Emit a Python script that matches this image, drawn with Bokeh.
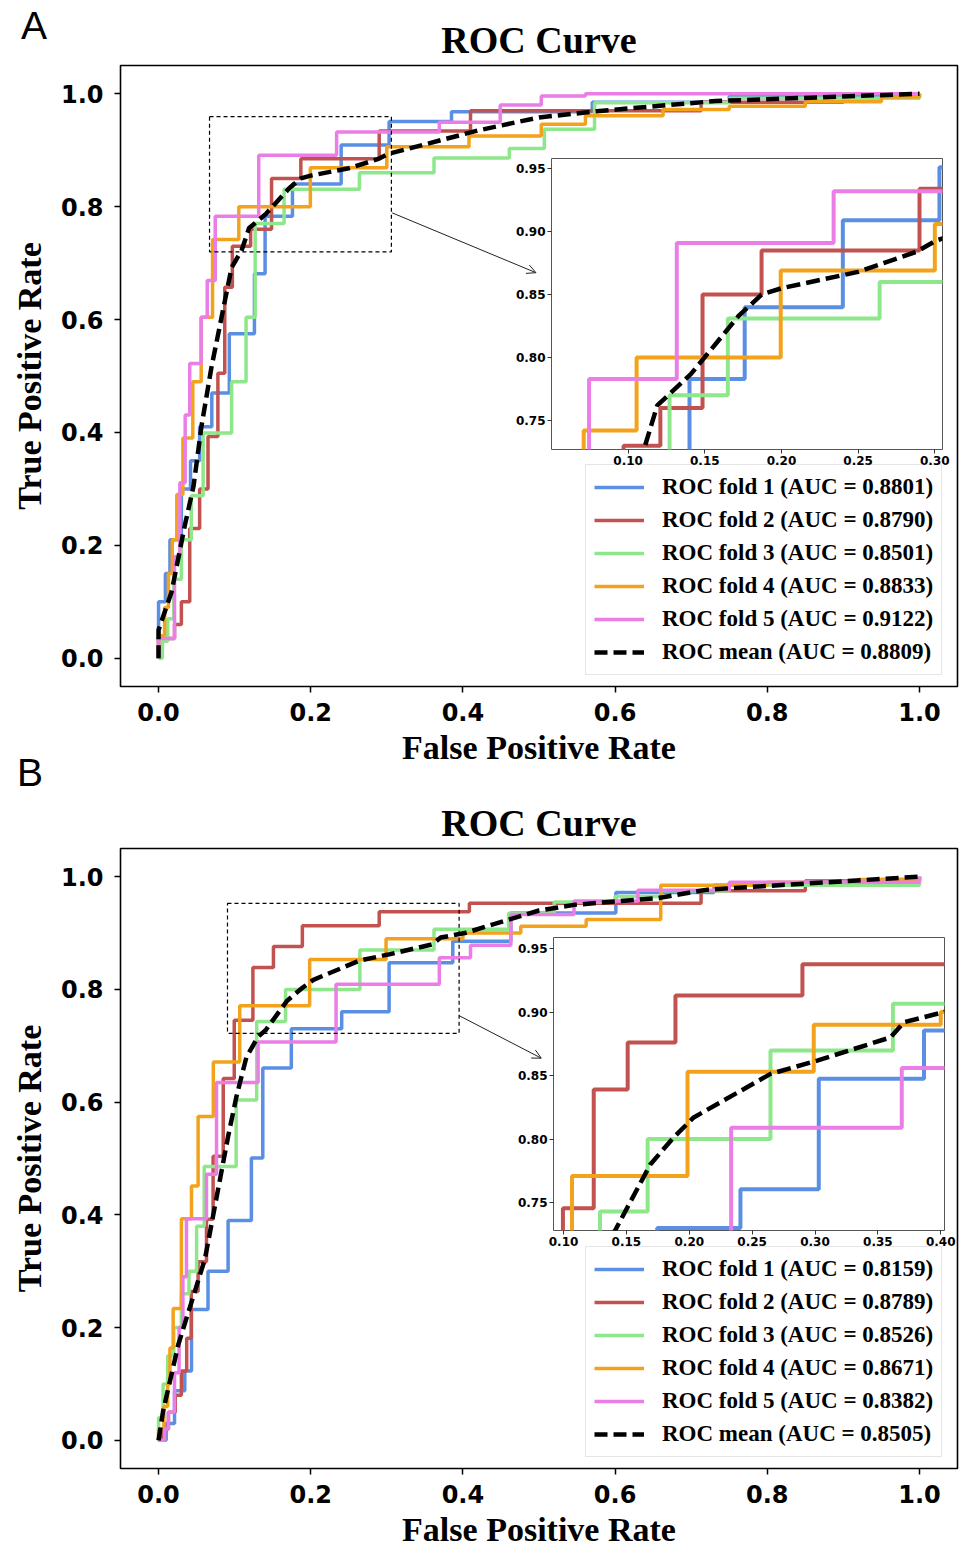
from bokeh.plotting import figure
from bokeh.models import (GridBox, Column, Div, Legend, LegendItem, FixedTicker,
                          PrintfTickFormatter, Range1d, Arrow, OpenHead)
from bokeh.embed import file_html
from bokeh.resources import INLINE

# ---------------- data: panel A ----------------
A_f1_fpr = [0.0, 0.0, 0.009, 0.015, 0.030, 0.042, 0.054, 0.070, 0.093, 0.126, 0.140, 0.176, 0.240, 0.303, 0.385, 0.570, 0.750, 1.0]
A_f1_tpr = [0.0, 0.100, 0.150, 0.210, 0.300, 0.350, 0.410, 0.470, 0.575, 0.681, 0.783, 0.840, 0.909, 0.951, 0.968, 0.985, 0.995, 1.0]
A_f2_fpr = [0.0, 0.0, 0.021, 0.030, 0.041, 0.054, 0.065, 0.078, 0.087, 0.097, 0.121, 0.1485, 0.187, 0.290, 0.410, 0.713, 0.900, 1.0]
A_f2_tpr = [0.0, 0.035, 0.060, 0.100, 0.230, 0.300, 0.393, 0.505, 0.657, 0.730, 0.760, 0.850, 0.885, 0.934, 0.970, 0.985, 1.0, 1.0]
A_f3_fpr = [0.0, 0.005, 0.012, 0.020, 0.030, 0.043, 0.0586, 0.096, 0.115, 0.127, 0.165, 0.264, 0.362, 0.461, 0.507, 0.573, 0.750, 1.0]
A_f3_tpr = [0.0, 0.030, 0.070, 0.140, 0.210, 0.288, 0.399, 0.490, 0.604, 0.770, 0.831, 0.860, 0.886, 0.903, 0.937, 0.984, 0.992, 1.0]
A_f4_fpr = [0.0, 0.0, 0.008, 0.013, 0.018, 0.024, 0.032, 0.045, 0.056, 0.071, 0.1055, 0.1995, 0.300, 0.408, 0.503, 0.561, 0.663, 0.750, 0.850, 0.950, 1.0]
A_f4_tpr = [0.0, 0.040, 0.090, 0.150, 0.210, 0.290, 0.390, 0.490, 0.604, 0.742, 0.800, 0.869, 0.906, 0.925, 0.946, 0.961, 0.972, 0.978, 0.986, 0.994, 1.0]
A_f5_fpr = [0.0, 0.0, 0.021, 0.028, 0.035, 0.041, 0.056, 0.064, 0.0745, 0.1317, 0.234, 0.369, 0.449, 0.503, 0.561, 1.0]
A_f5_tpr = [0.0, 0.035, 0.180, 0.311, 0.431, 0.522, 0.604, 0.669, 0.783, 0.891, 0.932, 0.9495, 0.980, 0.996, 1.0, 1.0]
A_mean_fpr = [0.0, 0.0, 0.017, 0.0345, 0.046, 0.0564, 0.0696, 0.0873, 0.096, 0.109, 0.119, 0.141, 0.172, 0.187, 0.200, 0.250, 0.288, 0.301, 0.420, 0.500, 0.576, 0.732, 1.0]
A_mean_tpr = [0.0, 0.050, 0.117, 0.235, 0.305, 0.411, 0.516, 0.634, 0.692, 0.722, 0.762, 0.787, 0.833, 0.850, 0.855, 0.868, 0.884, 0.893, 0.935, 0.958, 0.969, 0.987, 1.0]
A_auc = [0.8801, 0.8790, 0.8501, 0.8833, 0.9122]
A_mean_auc = 0.8809
A_zoom_box = [0.067, 0.306, 0.720, 0.9595]      # left, right, bottom, top
A_inset_x = [0.05, 0.305]
A_inset_y = [0.727, 0.958]
A_inset_xticks = [0.10, 0.15, 0.20, 0.25, 0.30]
A_arrow = [0.307, 0.789, 0.496, 0.683]          # x0, y0, x1, y1

# ---------------- data: panel B ----------------
B_f1_fpr = [0.0, 0.010, 0.021, 0.0345, 0.0433, 0.065, 0.0914, 0.122, 0.137, 0.1745, 0.2407, 0.303, 0.3867, 0.463, 0.601, 0.730, 0.850, 1.0]
B_f1_tpr = [0.0, 0.030, 0.088, 0.123, 0.232, 0.300, 0.390, 0.501, 0.6606, 0.730, 0.7605, 0.8474, 0.8855, 0.9355, 0.972, 0.985, 0.993, 1.0]
B_f2_fpr = [0.0, 0.005, 0.013, 0.022, 0.030, 0.037, 0.043, 0.052, 0.063, 0.0717, 0.085, 0.0995, 0.124, 0.151, 0.189, 0.290, 0.4085, 0.713, 0.850, 0.950, 1.0]
B_f2_tpr = [0.0, 0.020, 0.050, 0.080, 0.123, 0.181, 0.264, 0.317, 0.392, 0.504, 0.642, 0.7455, 0.839, 0.876, 0.913, 0.9376, 0.953, 0.975, 0.985, 0.995, 1.0]
B_f3_fpr = [0.0, 0.0, 0.006, 0.012, 0.020, 0.030, 0.040, 0.050, 0.060, 0.102, 0.129, 0.1669, 0.2646, 0.362, 0.460, 0.520, 0.600, 0.660, 0.750, 1.0]
B_f3_tpr = [0.0, 0.040, 0.100, 0.150, 0.200, 0.260, 0.300, 0.380, 0.486, 0.604, 0.743, 0.800, 0.8697, 0.9066, 0.935, 0.955, 0.965, 0.975, 0.985, 1.0]
B_f4_fpr = [0.0, 0.0, 0.007, 0.012, 0.015, 0.0192, 0.030, 0.0433, 0.052, 0.072, 0.1067, 0.1986, 0.299, 0.400, 0.476, 0.562, 0.660, 0.800, 0.920, 1.0]
B_f4_tpr = [0.0, 0.020, 0.060, 0.100, 0.164, 0.234, 0.393, 0.451, 0.5745, 0.6714, 0.771, 0.853, 0.890, 0.900, 0.912, 0.924, 0.985, 0.990, 0.995, 1.0]
B_f5_fpr = [0.0, 0.008, 0.013, 0.021, 0.027, 0.032, 0.0367, 0.063, 0.0762, 0.1308, 0.2333, 0.369, 0.410, 0.463, 0.546, 0.630, 0.750, 1.0]
B_f5_tpr = [0.0, 0.020, 0.050, 0.120, 0.200, 0.290, 0.393, 0.472, 0.635, 0.7066, 0.809, 0.856, 0.8785, 0.933, 0.957, 0.976, 0.990, 1.0]
B_mean_fpr = [0.0, 0.006, 0.026, 0.061, 0.0914, 0.1024, 0.1155, 0.1308, 0.141, 0.169, 0.1876, 0.2035, 0.2646, 0.3017, 0.360, 0.3708, 0.4026, 0.500, 0.546, 0.656, 0.7214, 0.853, 1.0]
B_mean_tpr = [0.0, 0.052, 0.170, 0.322, 0.539, 0.610, 0.680, 0.716, 0.728, 0.780, 0.8013, 0.817, 0.8513, 0.8618, 0.880, 0.892, 0.900, 0.940, 0.950, 0.962, 0.977, 0.988, 1.0]
B_auc = [0.8159, 0.8789, 0.8526, 0.8671, 0.8382]
B_mean_auc = 0.8505
B_zoom_box = [0.0906, 0.395, 0.722, 0.9525]
B_inset_x = [0.092, 0.403]
B_inset_y = [0.728, 0.9587]
B_inset_xticks = [0.10, 0.15, 0.20, 0.25, 0.30, 0.35, 0.40]
B_arrow = [0.395, 0.7535, 0.503, 0.678]

MAIN_TICKS = [0.0, 0.2, 0.4, 0.6, 0.8, 1.0]
INSET_YTICKS = [0.75, 0.80, 0.85, 0.90, 0.95]
FOLD_COLORS = ["#5b8fe3", "#c1524f", "#8ee88b", "#f3a21c", "#ea7ee6"]

SERIF = "Liberation Serif"
SANS = "DejaVu Sans"


def draw_curves(p, folds, mean, lw, mean_lw, dash):
    rends = []
    for (fx, fy), c in zip(folds, FOLD_COLORS):
        rends.append(p.step(fx, fy, mode="after", line_color=c, line_width=lw))
    rends.append(p.line(mean[0], mean[1], line_color="black", line_width=mean_lw,
                        line_dash=dash))
    return rends


def main_fig(folds, mean, aucs, mean_auc, box, arrow, height, top, bottom):
    p = figure(width=964, height=height, x_range=Range1d(-0.05, 1.05),
               y_range=Range1d(-0.05, 1.05), output_backend="svg",
               toolbar_location=None, min_border_left=120, min_border_right=7,
               min_border_top=top, min_border_bottom=bottom, title="ROC Curve")
    p.title.align = "center"
    p.title.text_font = SERIF
    p.title.text_font_size = "38px"
    p.title.text_font_style = "bold"
    p.title.text_color = "black"
    p.title.standoff = 10
    p.grid.visible = False
    p.outline_line_color = "black"
    p.outline_line_width = 1.6
    p.background_fill_color = "white"
    for ax in (p.xaxis, p.yaxis):
        ax.ticker = FixedTicker(ticks=MAIN_TICKS)
        ax.formatter = PrintfTickFormatter(format="%.1f")
        ax.major_label_text_font = SANS
        ax.major_label_text_font_style = "bold"
        ax.major_label_text_font_size = "24px"
        ax.major_label_text_color = "black"
        ax.major_tick_out = 6
        ax.major_tick_in = 0
        ax.major_tick_line_width = 1.5
        ax.major_tick_line_color = "black"
        ax.minor_tick_line_color = None
        ax.axis_line_color = None
        ax.axis_label_text_font = SERIF
        ax.axis_label_text_font_style = "bold"
        ax.axis_label_text_font_size = "34px"
        ax.axis_label_text_color = "black"
    p.xaxis.axis_label = "False Positive Rate"
    p.yaxis.axis_label = "True Positive Rate"
    p.xaxis.major_label_standoff = 10
    p.xaxis.axis_label_standoff = 5
    p.yaxis.major_label_standoff = 11
    p.yaxis.axis_label_standoff = 10

    rends = draw_curves(p, folds, mean, 3.5, 4.5, "13 6")

    p.quad(left=[box[0]], right=[box[1]], bottom=[box[2]], top=[box[3]],
           fill_alpha=0, line_color="black", line_width=1.2, line_dash="4 3")
    p.add_layout(Arrow(end=OpenHead(size=9, line_width=1, line_color="#222222"),
                       x_start=arrow[0], y_start=arrow[1], x_end=arrow[2], y_end=arrow[3],
                       line_width=1, line_color="#222222"))

    labels = [f"ROC fold {i + 1} (AUC = {a:.4f})" for i, a in enumerate(aucs)]
    labels.append(f"ROC mean (AUC = {mean_auc:.4f})")
    items = [LegendItem(label=l, renderers=[r]) for l, r in zip(labels, rends)]
    leg = Legend(items=items, location=(465, 11))
    leg.label_text_font = SERIF
    leg.label_text_font_style = "bold"
    leg.label_text_font_size = "23px"
    leg.label_text_color = "black"
    leg.glyph_width = 50
    leg.glyph_height = 28
    leg.label_height = 28
    leg.label_standoff = 18
    leg.spacing = 5
    leg.padding = 8
    leg.margin = 0
    leg.border_line_color = "#cccccc"
    leg.border_line_width = 1.2
    leg.background_fill_alpha = 0.85
    p.add_layout(leg)
    return p


def inset_fig(folds, mean, xr, yr, xticks, frame_h):
    w = 40 + 391 + 12
    h = 2 + frame_h + 22
    p = figure(width=w, height=h, x_range=Range1d(*xr), y_range=Range1d(*yr),
               output_backend="svg", toolbar_location=None,
               min_border_left=40, min_border_right=12, min_border_top=2,
               min_border_bottom=22)
    p.border_fill_alpha = 0
    p.background_fill_color = "white"
    p.grid.visible = False
    p.outline_line_color = "#555555"
    p.outline_line_width = 1
    p.xaxis.ticker = FixedTicker(ticks=xticks)
    p.yaxis.ticker = FixedTicker(ticks=INSET_YTICKS)
    for ax in (p.xaxis, p.yaxis):
        ax.formatter = PrintfTickFormatter(format="%.2f")
        ax.major_label_text_font = SANS
        ax.major_label_text_font_style = "bold"
        ax.major_label_text_font_size = "12px"
        ax.major_label_text_color = "black"
        ax.major_tick_out = 4
        ax.major_tick_in = 0
        ax.major_tick_line_color = "#333333"
        ax.minor_tick_line_color = None
        ax.axis_line_color = None
        ax.major_label_standoff = 2
    draw_curves(p, folds, mean, 4, 4.5, "14 6")
    return p


def place(item, top, left):
    # wrap so that every plot keeps its own borders (no frame alignment)
    return Column(children=[item], margin=(top, 0, 0, left))


A_folds = [(A_f1_fpr, A_f1_tpr), (A_f2_fpr, A_f2_tpr), (A_f3_fpr, A_f3_tpr),
           (A_f4_fpr, A_f4_tpr), (A_f5_fpr, A_f5_tpr)]
B_folds = [(B_f1_fpr, B_f1_tpr), (B_f2_fpr, B_f2_tpr), (B_f3_fpr, B_f3_tpr),
           (B_f4_fpr, B_f4_tpr), (B_f5_fpr, B_f5_tpr)]

figA = main_fig(A_folds, (A_mean_fpr, A_mean_tpr), A_auc, A_mean_auc,
                A_zoom_box, A_arrow, 768, 65, 80)
figB = main_fig(B_folds, (B_mean_fpr, B_mean_tpr), B_auc, B_mean_auc,
                B_zoom_box, B_arrow, 782, 80, 79)
insA = inset_fig(A_folds, (A_mean_fpr, A_mean_tpr), A_inset_x, A_inset_y,
                 A_inset_xticks, 291)
insB = inset_fig(B_folds, (B_mean_fpr, B_mean_tpr), B_inset_x, B_inset_y,
                 B_inset_xticks, 293)

letter_style = "font-family:'Liberation Sans';font-size:39px;line-height:1;color:black;"
divA = Div(text=f'<span style="{letter_style}">A</span>', width=40, height=42,
           margin=(6, 0, 0, 21))
divB = Div(text=f'<span style="{letter_style}">B</span>', width=40, height=42,
           margin=(753, 0, 0, 17))

grid = GridBox(children=[(place(figA, 0, 0), 0, 0), (place(figB, 768, 0), 0, 0),
                         (place(insA, 156, 511), 0, 0), (place(insB, 935, 513), 0, 0),
                         (divA, 0, 0), (divB, 0, 0)])

open("out.html", "w").write(file_html(grid, INLINE))
